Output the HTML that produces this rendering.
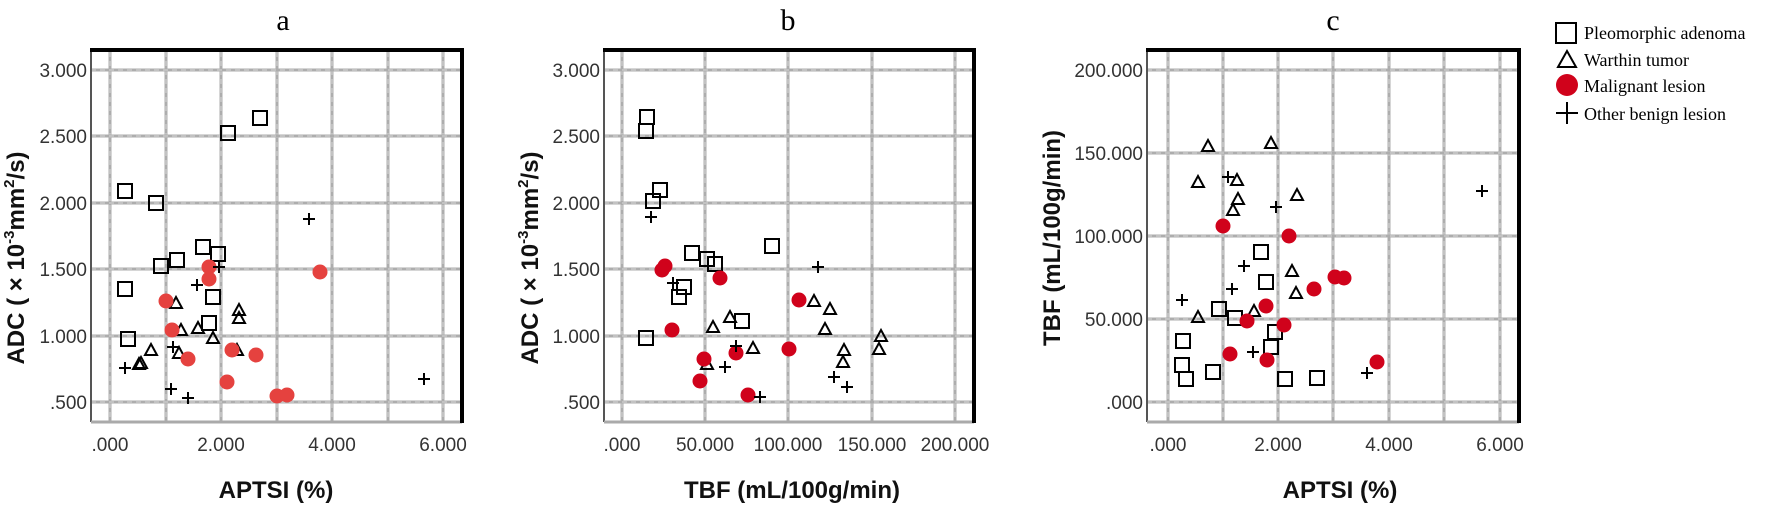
<!DOCTYPE html>
<html><head><meta charset="utf-8"><style>
html,body{margin:0;padding:0;background:#fff;}
svg{display:block;}
.t{font-family:"Liberation Sans",sans-serif;font-size:19px;fill:#333;}
.ax{font-family:"Liberation Sans",sans-serif;font-size:24px;font-weight:bold;fill:#111;}
.ti{font-family:"Liberation Serif",serif;font-size:30px;fill:#000;}
.lg{font-family:"Liberation Serif",serif;font-size:18px;fill:#000;}
</style></head><body>
<svg id="s" width="1771" height="506" viewBox="0 0 1771 506" xmlns="http://www.w3.org/2000/svg">
<text class="ti" x="283" y="30" text-anchor="middle">a</text>
<text class="ti" x="788" y="30" text-anchor="middle">b</text>
<text class="ti" x="1333" y="30" text-anchor="middle">c</text>
<text class="ax" x="276" y="498" text-anchor="middle">APTSI (%)</text>
<text class="ax" x="792" y="498" text-anchor="middle">TBF (mL/100g/min)</text>
<text class="ax" x="1340" y="498" text-anchor="middle">APTSI (%)</text>
<text class="ax" transform="translate(24,258) rotate(-90)" text-anchor="middle">ADC ( × 10<tspan font-size="15" dy="-10">-3</tspan><tspan dy="10">mm</tspan><tspan font-size="15" dy="-10">2</tspan><tspan dy="10">/s)</tspan></text>
<text class="ax" transform="translate(538,258) rotate(-90)" text-anchor="middle">ADC ( × 10<tspan font-size="15" dy="-10">-3</tspan><tspan dy="10">mm</tspan><tspan font-size="15" dy="-10">2</tspan><tspan dy="10">/s)</tspan></text>
<text class="ax" transform="translate(1060,238) rotate(-90)" text-anchor="middle">TBF (mL/100g/min)</text>
<g id="g"></g>
<rect x="1556" y="23" width="20" height="20" fill="none" stroke="#000" stroke-width="2"/>
<text class="lg" x="1584" y="39">Pleomorphic adenoma</text>
<polygon points="1567,51 1558,67 1576,67" fill="none" stroke="#000" stroke-width="2"/>
<text class="lg" x="1584" y="66">Warthin tumor</text>
<circle cx="1567" cy="85" r="11" fill="#d0021b"/>
<text class="lg" x="1584" y="92">Malignant lesion</text>
<path d="M1556 113H1578M1567 102V124" stroke="#000" stroke-width="2"/>
<text class="lg" x="1584" y="120">Other benign lesion</text>
</svg>
<script>
var NS="http://www.w3.org/2000/svg",g=document.getElementById('g');
function el(t,a){var e=document.createElementNS(NS,t);for(var k in a)e.setAttribute(k,a[k]);g.appendChild(e);return e;}
function txt(x,y,s,anc){var e=el('text',{x:x,y:y,'class':'t','text-anchor':anc});e.textContent=s;}
function panel(L,R,xs,ys,xl,yl){
 xs.forEach(function(x){el('line',{x1:x,y1:52,x2:x,y2:421,stroke:'#adadad','stroke-width':3});el('line',{x1:x,y1:52,x2:x,y2:421,stroke:'#d8d8d8','stroke-width':1,'stroke-dasharray':'5 4'});});
 ys.forEach(function(y){el('line',{x1:L,y1:y,x2:R,y2:y,stroke:'#adadad','stroke-width':3});el('line',{x1:L,y1:y,x2:R,y2:y,stroke:'#d8d8d8','stroke-width':1,'stroke-dasharray':'5 4'});});
 el('line',{x1:L,y1:50,x2:L,y2:422,stroke:'#555','stroke-width':2});
 el('line',{x1:L,y1:422,x2:R,y2:422,stroke:'#aaa','stroke-width':3});
 el('line',{x1:L-1,y1:50,x2:R+2,y2:50,stroke:'#000','stroke-width':4});
 el('line',{x1:R,y1:48,x2:R,y2:423,stroke:'#000','stroke-width':4});
 xs.forEach(function(x,i){if(xl[i])txt(x,451,xl[i],'middle');});
 ys.forEach(function(y,i){txt(L-4,y+7,yl[i],'end');});
}
panel(91,462,[110,166,221,277,332,388,443],[70,136,203,269,336,402],['.000','','2.000','','4.000','','6.000'],['3.000','2.500','2.000','1.500','1.000','.500']);
panel(604,974,[622,705,788,872,955],[70,136,203,269,336,402],['.000','50.000','100.000','150.000','200.000'],['3.000','2.500','2.000','1.500','1.000','.500']);
panel(1147,1519,[1168,1223,1278,1333,1389,1444,1500],[70,153,236,319,402],['.000','','2.000','','4.000','','6.000'],['200.000','150.000','100.000','50.000','.000']);
function sq(p){p.forEach(function(c){el('rect',{x:c[0]-7,y:c[1]-7,width:14,height:14,fill:'none',stroke:'#000','stroke-width':2});});}
function tr(p){p.forEach(function(c){el('polygon',{points:(c[0])+','+(c[1]-6)+' '+(c[0]-6)+','+(c[1]+5)+' '+(c[0]+6)+','+(c[1]+5),fill:'none',stroke:'#000','stroke-width':2});});}
function ci(p,col){p.forEach(function(c){el('circle',{cx:c[0],cy:c[1],r:7.5,fill:col});});}
function pl(p){p.forEach(function(c){el('path',{d:'M'+(c[0]-6)+' '+c[1]+'h12M'+c[0]+' '+(c[1]-6)+'v12',stroke:'#000','stroke-width':2});});}
sq([[125,191],[156,203],[260,118],[228,133],[203,247],[218,254],[177,260],[161,266],[125,289],[213,297],[209,323],[128,339]]);
tr([[176,303],[239,310],[239,318],[181,330],[198,328],[213,338],[151,350],[179,353],[141,363],[139,364],[237,350]]);
ci([[209,267],[209,279],[166,301],[172,330],[188,359],[232,350],[256,355],[227,382],[277,396],[287,395],[320,272]],'#e5423f');
pl([[309,219],[219,267],[197,285],[173,347],[125,368],[171,389],[188,398],[424,379]]);
sq([[647,117],[646,131],[660,190],[653,201],[692,253],[707,259],[715,264],[684,287],[679,297],[742,321],[772,246],[646,338]]);
tr([[713,327],[730,317],[753,348],[707,364],[814,301],[830,309],[825,329],[844,350],[843,362],[881,336],[879,349]]);
ci([[665,266],[662,270],[720,278],[799,300],[672,330],[704,359],[736,353],[789,349],[700,381],[748,395]],'#d0021b');
pl([[651,217],[673,283],[818,267],[736,346],[725,367],[834,377],[847,387],[760,397]]);
sq([[1261,252],[1266,282],[1219,309],[1235,318],[1275,332],[1271,347],[1183,341],[1182,365],[1186,379],[1213,372],[1285,379],[1317,378]]);
tr([[1208,146],[1271,143],[1198,182],[1237,180],[1238,199],[1233,210],[1297,195],[1292,271],[1296,293],[1254,311],[1198,317]]);
ci([[1223,226],[1289,236],[1314,289],[1335,277],[1344,278],[1266,306],[1247,321],[1284,325],[1230,354],[1267,360],[1377,362]],'#d0021b');
pl([[1228,177],[1276,207],[1244,266],[1232,289],[1182,300],[1253,352],[1367,373],[1482,191]]);
</script>
</body></html>
